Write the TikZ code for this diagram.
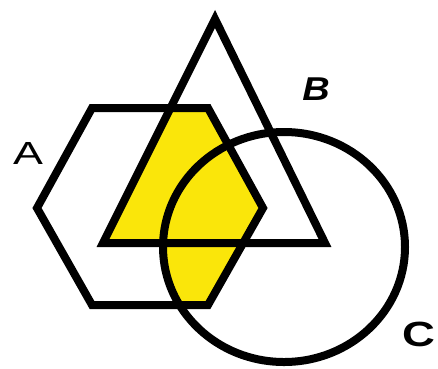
\documentclass[tikz,border=0pt]{standalone}
\usepackage{fontspec}
\usepackage{xcolor}
\setmainfont{Liberation Sans}
\usetikzlibrary{positioning, calc}
\definecolor{vennyellow}{RGB}{250,230,10}

\begin{document}
\begin{tikzpicture}[x=1pt, y=-1pt, line width=8pt]
        \useasboundingbox (0,0) rectangle (438,368);
        % Shaded part: A and (B or C)
        \begin{scope}
            \clip (92,108) -- (208,108) -- (263,208) -- (208,305) -- (92,305) -- (37,208) -- cycle;
            \fill[vennyellow] (215,19) -- (325,243) -- (103,243) -- cycle;
            \fill[vennyellow] (284,247) ellipse (121 and 115);
        \end{scope}
        % Hexagon A
        \draw (92,108) -- (208,108) -- (263,208) -- (208,305) -- (92,305) -- (37,208) -- cycle;
        % Triangle B
        \draw (215,19) -- (325,243) -- (103,243) -- cycle;
        % Circle C
        \draw (284,247) ellipse (121 and 115);
        % Labels
        \node[xscale=1.4, font=\fontsize{32}{32}\selectfont] (labelA) at (28,153) {A};
        \node[xscale=1.15, font=\fontsize{33}{33}\selectfont\bfseries\itshape] (labelB) at (316,89) {B};
        \node[xscale=1.3, font=\fontsize{35}{35}\selectfont\bfseries] (labelC) at (419,334) {C};
    \end{tikzpicture}
\end{document}
